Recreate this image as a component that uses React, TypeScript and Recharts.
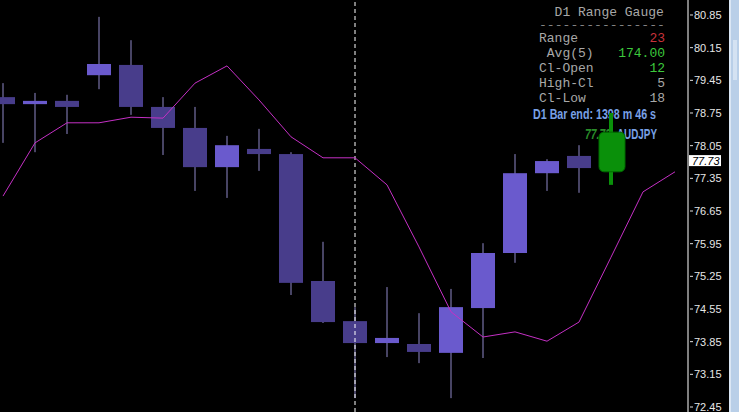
import React from "react";
import { ComposedChart, Bar, Line, XAxis, YAxis, ReferenceLine } from "recharts";

// ---- data ----
const barIndex = [0, 1, 2, 3, 4, 5, 6, 7, 8, 9, 10, 11, 12, 13, 14, 15, 16, 17, 18, 19, 20, 21];
const opens = [79.09, 78.94, 79.01, 79.56, 79.78, 78.88, 78.43, 77.59, 77.98, 77.87, 75.15, 74.29, 73.82, 73.8, 73.61, 74.57, 75.75, 77.46, 77.83, 77.49];
const closes = [78.94, 79.01, 78.88, 79.8, 78.88, 78.43, 77.59, 78.06, 77.87, 75.11, 74.27, 73.82, 73.93, 73.63, 74.59, 75.75, 77.46, 77.72, 77.57, 78.34];
const highs = [79.39, 79.18, 79.14, 80.81, 80.31, 79.09, 78.88, 78.26, 78.41, 77.91, 75.99, 74.59, 75.02, 74.46, 74.98, 75.96, 77.87, 77.76, 78.06, 78.75];
const lows = [78.11, 77.91, 78.3, 79.26, 78.71, 77.85, 77.08, 76.93, 77.51, 74.85, 74.25, 72.64, 73.52, 73.39, 72.64, 73.5, 75.54, 77.08, 77.04, 77.21];
const kinds = ["bear", "bull", "bear", "bull", "bear", "bear", "bear", "bull", "bear", "bear", "bear", "bear", "bull", "bear", "bull", "bull", "bull", "bull", "bear", "live"];
const maValues = [76.97, 78.11, 78.54, 78.54, 78.66, 78.64, 79.39, 79.76, 79.03, 78.24, 77.79, 77.79, 77.21, 75.88, 74.49, 73.95, 74.06, 73.86, 74.27, 75.66, 77.06, 77.49];
const priceTicks = [80.85, 80.15, 79.45, 78.75, 78.05, 77.35, 76.65, 75.95, 75.25, 74.55, 73.85, 73.15, 72.45];
const currentPrice = 77.73;
const separatorIndex = 11;

const gaugeTitle = "  D1 Range Gauge";
const gaugeRule = "----------------";
const gaugeLabels = ["Range", " Avg(5)", "Cl-Open", "High-Cl", "Cl-Low"];
const gaugeValues = ["23", "174.00", "12", "5", "18"];
const gaugeColors = ["#c8323a", "#3cc83c", "#3cc83c", "#a8a8a8", "#a8a8a8"];
const barEndText = "D1 Bar end: 1398 m 46 s";
const symbolText = "AUDJPY";

const data = barIndex.map((i) => ({
  i,
  open: opens[i],
  close: closes[i],
  high: highs[i],
  low: lows[i],
  kind: kinds[i],
  ma: maValues[i],
}));

const COLORS = {
  bull: "#6a5acd",
  bear: "#483d8b",
  wick: "#8f88c8",
  live: "#0a900a",
  liveEdge: "#006a00",
};

const CandleShape = (props: any) => {
  const { x, y, width, height, payload } = props;
  if (!payload || payload.high == null || height == null) return null;
  const h = Math.abs(height);
  const top = Math.min(y, y + height);
  const ppu = h / (payload.high - payload.low);
  const cx = x + width / 2;
  const yO = top + (payload.high - payload.open) * ppu;
  const yC = top + (payload.high - payload.close) * ppu;
  const bt = Math.min(yO, yC);
  const bh = Math.max(Math.abs(yO - yC), 2);
  if (payload.kind === "live") {
    return (
      <g>
        <line x1={cx} x2={cx} y1={top} y2={top + h} stroke={COLORS.live} strokeWidth={4} />
        <rect x={x} y={bt} width={width + 2} height={bh} rx={5} fill={COLORS.live} stroke={COLORS.liveEdge} strokeWidth={1} />
      </g>
    );
  }
  return (
    <g>
      <line x1={cx} x2={cx} y1={top} y2={top + h} stroke={COLORS.wick} strokeWidth={1} />
      <rect x={x} y={bt} width={width} height={bh} fill={payload.kind === "bull" ? COLORS.bull : COLORS.bear} />
    </g>
  );
};

const PriceTick = (props: any) => {
  const { x, y, payload } = props;
  const v = payload.value;
  if (v === currentPrice) {
    return (
      <g>
        <rect x={x + 1} y={y - 5.5} width={32} height={11} fill="#ffffff" />
        <text x={x + 4} y={y + 4} fontSize={11} fontStyle="italic" fontFamily="Liberation Sans, Arial, sans-serif" fill="#000000">
          {v.toFixed(2)}
        </text>
      </g>
    );
  }
  return (
    <g>
      <line x1={x + 2} x2={x + 5} y1={y} y2={y} stroke="#e0e0e0" strokeWidth={1} />
      <text x={x + 6} y={y + 4} fontSize={11} fontFamily="Liberation Sans, Arial, sans-serif" fill="#e6e6e6">
        {v.toFixed(2)}
      </text>
    </g>
  );
};

export default function App() {
  const mono = "Liberation Mono, Courier New, monospace";
  const narrow = "Liberation Sans Narrow, Arial Narrow, Liberation Sans, sans-serif";
  return (
    <div style={{ position: "absolute", left: 0, top: 0, width: 739, height: 412, background: "#000000", overflow: "hidden" }}>
      <svg width={739} height={412} style={{ position: "absolute", left: 0, top: 0 }}>
        <text x={539} y={16} fontFamily={mono} fontSize={13} fill="#a8a8a8" style={{ whiteSpace: "pre" }} xmlSpace="preserve">
          {gaugeTitle}
        </text>
        <text x={539} y={28} fontFamily={mono} fontSize={9} fill="#a8a8a8" textLength={126} lengthAdjust="spacingAndGlyphs">
          {gaugeRule}
        </text>
        {gaugeLabels.map((l, k) => (
          <text key={l} x={539} y={42 + k * 15} fontFamily={mono} fontSize={13} fill="#a8a8a8" xmlSpace="preserve" style={{ whiteSpace: "pre" }}>
            {l}
          </text>
        ))}
        {gaugeValues.map((v, k) => (
          <text key={k} x={665} y={42 + k * 15} fontFamily={mono} fontSize={13} fill={gaugeColors[k]} textAnchor="end">
            {v}
          </text>
        ))}
        <text x={533} y={119} fontFamily={narrow} fontWeight="bold" fontSize={14} fill="#78a0e6" textLength={123} lengthAdjust="spacingAndGlyphs">
          {barEndText}
        </text>
        <text x={585} y={139} fontFamily={narrow} fontWeight="bold" fontStyle="italic" fontSize={14} fill="#2a8c2a" textLength={26} lengthAdjust="spacingAndGlyphs">
          {currentPrice.toFixed(2)}
        </text>
        <text x={617} y={139} fontFamily={narrow} fontWeight="bold" fontSize={14} fill="#78a0e6" textLength={40} lengthAdjust="spacingAndGlyphs">
          {symbolText}
        </text>
      </svg>
      <div style={{ position: "absolute", left: 0, top: 0 }}>
        <ComposedChart width={739} height={412} data={data} margin={{ top: 0, right: 0, bottom: 0, left: 0 }}>
          <XAxis dataKey="i" type="number" domain={[-0.09375, 21.40625]} hide allowDataOverflow />
          <YAxis
            orientation="right"
            width={51}
            domain={[72.3429, 81.1714]}
            allowDataOverflow
            ticks={[...priceTicks, currentPrice]}
            interval={0}
            tick={<PriceTick />}
            tickLine={false}
            tickSize={0}
            tickMargin={0}
            axisLine={{ stroke: "#ffffff", strokeWidth: 1 }}
          />
          <Bar
            dataKey={(d: any) => (d.high != null ? [d.low, d.high] : null)}
            barSize={24}
            shape={<CandleShape />}
            activeBar={false}
            isAnimationActive={false}
          />
          <ReferenceLine x={separatorIndex} stroke="#ffffff" strokeDasharray="4 3" strokeWidth={1} />
          <Line type="linear" dataKey="ma" stroke="#c530c5" strokeWidth={1} dot={false} activeDot={false} isAnimationActive={false} />
        </ComposedChart>
      </div>
      <svg width={739} height={412} style={{ position: "absolute", left: 0, top: 0, pointerEvents: "none" }}>
        <rect x={729} y={0} width={10} height={412} fill="#b9cfe8" />
        <rect x={729} y={0} width={2} height={412} fill="#dae6f4" />
        <rect x={733} y={40} width={4} height={40} fill="#d4e2f2" />
      </svg>
    </div>
  );
}
